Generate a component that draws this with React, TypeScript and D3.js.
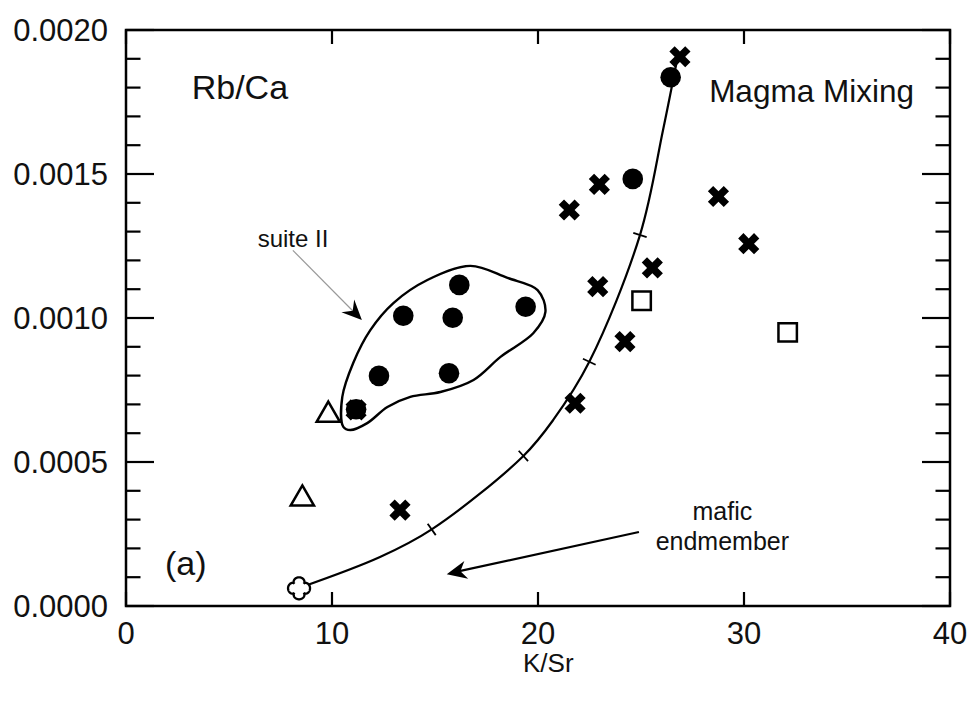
import React from "react";
import * as d3 from "d3";

// ---- data ----
const xTickValues = [0, 10, 20, 30, 40];
const xTickLabels = ["0", "10", "20", "30", "40"];
const yTickValues = [0, 0.0005, 0.001, 0.0015, 0.002];
const yTickLabels = ["0.0000", "0.0005", "0.0010", "0.0015", "0.0020"];

const circleX = [26.44, 24.6, 16.18, 13.46, 15.86, 19.4, 12.28, 15.68, 11.17];
const circleY = [0.001836, 0.001483, 0.001115, 0.001008, 0.001001, 0.001039, 0.000799, 0.000808, 0.000683];

const crossX = [26.89, 22.98, 21.52, 28.76, 30.23, 25.55, 22.9, 24.22, 21.8, 11.17, 13.3];
const crossY = [0.001907, 0.001464, 0.001375, 0.001422, 0.001258, 0.001174, 0.001109, 0.000918, 0.000704, 0.000681, 0.000333];

const squareX = [25.03, 32.12];
const squareY = [0.00106, 0.00095];

const triangleX = [9.82, 8.56];
const triangleY = [0.000663, 0.000372];

const endX = [8.4];
const endY = [0.0000615];

// mixing curve nodes
const curveX = [8.4, 12.33, 14.84, 19.29, 20.74, 22.49, 24.95, 26.07, 26.75];
const curveY = [0.0000625, 0.00017, 0.000266, 0.000521, 0.000646, 0.000848, 0.001288, 0.001653, 0.001896];
const curveTickIdx = [2, 3, 5, 6];

// suite II envelope
const envX = [10.55, 10.5, 11.03, 11.86, 12.98, 14.63, 16.72, 18.52, 19.98, 20.36, 19.78, 18.18, 16.87, 15.26, 13.8, 12.69, 11.71, 10.89];
const envY = [0.000622, 0.000726, 0.000844, 0.000958, 0.001052, 0.001132, 0.001181, 0.001139, 0.001097, 0.001021, 0.000948, 0.000865, 0.000785, 0.000743, 0.000726, 0.000691, 0.000635, 0.000611];

// annotations (data units)
const suiteArrowX = [8.1, 11.45];
const suiteArrowY = [0.001235, 0.000993];
const maficArrowX = [24.9, 15.57];
const maficArrowY = [0.000257, 0.0001106];

const W = 971;
const H = 704;
const FONT = "'Liberation Sans', Arial, Helvetica, sans-serif";

function quatrefoilPath(cx: number, cy: number, R: number) {
  const pts: [number, number][] = [];
  for (let i = 0; i <= 200; i++) {
    const t = (i / 200) * Math.PI * 2;
    const r = R * (0.6 + 0.4 * Math.pow(Math.abs(Math.cos(2 * t)), 0.5));
    pts.push([cx + r * Math.cos(t), cy + r * Math.sin(t)]);
  }
  return d3.line()(pts) + "Z";
}

function arrowHead(tipX: number, tipY: number, fromX: number, fromY: number, len: number, half: number, notch: number) {
  const dx = tipX - fromX;
  const dy = tipY - fromY;
  const d = Math.hypot(dx, dy);
  const ux = dx / d;
  const uy = dy / d;
  const px = -uy;
  const py = ux;
  const bx = tipX - ux * len;
  const by = tipY - uy * len;
  const nx = tipX - ux * (len - notch);
  const ny = tipY - uy * (len - notch);
  return `M${tipX},${tipY}L${bx + px * half},${by + py * half}L${nx},${ny}L${bx - px * half},${by - py * half}Z`;
}

export default function App() {
  const x = d3.scaleLinear().domain([0, 40]).range([126, 950]);
  const y = d3.scaleLinear().domain([0, 0.002]).range([606, 30]);
  const [x0, x1] = x.range();
  const [y0, y1] = y.range();

  const minorY = d3.range(0, 21).map((i) => i * 0.0001);

  const curvePts: [number, number][] = curveX.map((v, i) => [x(v), y(curveY[i])]);
  const curvePath = d3.line().curve(d3.curveCatmullRom.alpha(0.5))(curvePts) || "";
  const curveTicks = curveTickIdx.map((i) => {
    const [px, py] = curvePts[i];
    const [ax, ay] = curvePts[i - 1];
    const [bx, by] = curvePts[i + 1];
    const dx = bx - ax;
    const dy = by - ay;
    const d = Math.hypot(dx, dy);
    const nx = -dy / d;
    const ny = dx / d;
    return { x1: px - nx * 7, y1: py - ny * 7, x2: px + nx * 7, y2: py + ny * 7 };
  });

  const envPts: [number, number][] = envX.map((v, i) => [x(v), y(envY[i])]);
  const envPath = d3.line().curve(d3.curveCatmullRomClosed.alpha(0.5))(envPts) || "";

  const crossSym = d3.symbol().type(d3.symbolCross).size(280);
  const sqSym = d3.symbol().type(d3.symbolSquare).size(340);
  const triSym = d3.symbol().type(d3.symbolTriangle).size(235);

  const sa = { x1: x(suiteArrowX[0]), y1: y(suiteArrowY[0]), x2: x(suiteArrowX[1]), y2: y(suiteArrowY[1]) };
  const ma = { x1: x(maficArrowX[0]), y1: y(maficArrowY[0]), x2: x(maficArrowX[1]), y2: y(maficArrowY[1]) };

  return (
    <svg
      width={W}
      height={H}
      style={{ position: "absolute", left: 0, top: 0, background: "#fff" }}
      fontFamily={FONT}
    >
      <rect x={0} y={0} width={W} height={H} fill="#fff" />

      {/* y ticks (left & right), major + minor */}
      {minorY.map((v, i) => {
        const major = i % 5 === 0;
        const len = major ? 28 : 14.5;
        return (
          <g key={"my" + i} stroke="#000" strokeWidth={2.2}>
            <line x1={x0} x2={x0 + len} y1={y(v)} y2={y(v)} />
            <line x1={x1 - len} x2={x1} y1={y(v)} y2={y(v)} />
          </g>
        );
      })}
      {/* x ticks (bottom & top) */}
      {xTickValues.map((v, i) => (
        <g key={"xt" + i} stroke="#000" strokeWidth={2.2}>
          <line x1={x(v)} x2={x(v)} y1={y0} y2={y0 - 14} />
          <line x1={x(v)} x2={x(v)} y1={y1} y2={y1 + 14} />
        </g>
      ))}
      {/* frame */}
      <rect x={x0} y={y1} width={x1 - x0} height={y0 - y1} fill="none" stroke="#000" strokeWidth={2.5} />

      {/* tick labels */}
      {yTickValues.map((v, i) => (
        <text key={"yl" + i} x={108} y={y(v)} dy="0.36em" textAnchor="end" fontSize={31} fill="#111">
          {yTickLabels[i]}
        </text>
      ))}
      {xTickValues.map((v, i) => (
        <text key={"xl" + i} x={x(v)} y={644} textAnchor="middle" fontSize={31} fill="#111">
          {xTickLabels[i]}
        </text>
      ))}
      <text x={x(20.5)} y={672} textAnchor="middle" fontSize={26} fill="#111">
        K/Sr
      </text>

      {/* labels */}
      <text x={x(3.19)} y={y(0.00176)} fontSize={34} fill="#111">Rb/Ca</text>
      <text x={x(38.25)} y={y(0.001751)} textAnchor="end" fontSize={31.5} fill="#111">Magma Mixing</text>
      <text x={x(1.89)} y={y(0.000108)} fontSize={34} fill="#111">(a)</text>
      <text x={x(6.39)} y={y(0.001245)} fontSize={24} fill="#111">suite II</text>
      <text x={x(28.95)} y={y(0.000299)} textAnchor="middle" fontSize={25} fill="#111">mafic</text>
      <text x={x(28.95)} y={y(0.000194)} textAnchor="middle" fontSize={25} fill="#111">endmember</text>

      {/* suite II arrow */}
      <line x1={sa.x1} y1={sa.y1} x2={sa.x2 - 5} y2={sa.y2 - 5} stroke="#999" strokeWidth={1.2} />
      <path d={arrowHead(sa.x2, sa.y2, sa.x1, sa.y1, 20, 9, 7)} fill="#000" />

      {/* mafic arrow */}
      <line x1={ma.x1} y1={ma.y1} x2={ma.x2 + 8} y2={ma.y2 - 2} stroke="#000" strokeWidth={2.2} />
      <path d={arrowHead(ma.x2, ma.y2, ma.x1, ma.y1, 20, 9, 6)} fill="#000" />

      {/* suite II envelope */}
      <path d={envPath} fill="none" stroke="#000" strokeWidth={2.4} />

      {/* mixing curve */}
      <path d={curvePath} fill="none" stroke="#000" strokeWidth={2.2} />
      {curveTicks.map((t, i) => (
        <line key={"ct" + i} {...t} stroke="#000" strokeWidth={1.8} />
      ))}

      {/* circles */}
      {circleX.map((v, i) => (
        <circle key={"c" + i} cx={x(v)} cy={y(circleY[i])} r={10.3} fill="#000" />
      ))}
      {/* crosses */}
      {crossX.map((v, i) => (
        <path
          key={"x" + i}
          d={crossSym() || ""}
          transform={`translate(${x(v)},${y(crossY[i])}) rotate(45)`}
          fill="#000"
        />
      ))}
      {/* squares */}
      {squareX.map((v, i) => (
        <path
          key={"s" + i}
          d={sqSym() || ""}
          transform={`translate(${x(v)},${y(squareY[i])})`}
          fill="#fff"
          stroke="#000"
          strokeWidth={2.5}
        />
      ))}
      {/* triangles */}
      {triangleX.map((v, i) => (
        <path
          key={"t" + i}
          d={triSym() || ""}
          transform={`translate(${x(v)},${y(triangleY[i])})`}
          fill="#fff"
          stroke="#000"
          strokeWidth={2.5}
        />
      ))}
      {/* mafic endmember */}
      {endX.map((v, i) => (
        <path key={"e" + i} d={quatrefoilPath(x(v), y(endY[i]), 11)} fill="#fff" stroke="#000" strokeWidth={2.3} />
      ))}
    </svg>
  );
}
